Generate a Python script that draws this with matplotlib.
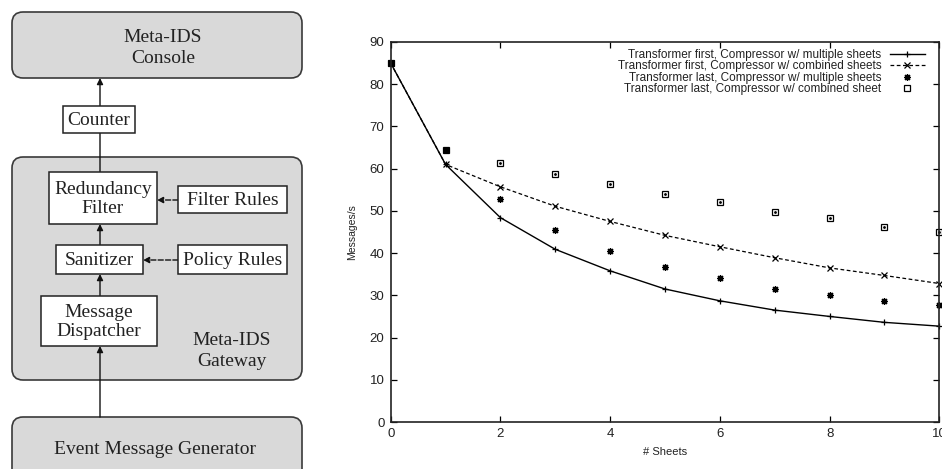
import matplotlib
matplotlib.use('Agg')
import matplotlib.pyplot as plt
from matplotlib.patches import FancyBboxPatch, Rectangle

# chart data
sheets = [0, 1, 2, 3, 4, 5, 6, 7, 8, 9, 10]
first_multi = [85, 61.0, 48.4, 40.9, 35.8, 31.5, 28.7, 26.5, 25.0, 23.6, 22.7]
first_combined = [85, 61.0, 55.7, 51.1, 47.5, 44.2, 41.5, 38.9, 36.5, 34.7, 32.8]
last_multi = [85, 64.4, 52.9, 45.4, 40.5, 36.8, 34.0, 31.6, 30.1, 28.7, 27.7]
last_combined = [85, 64.4, 61.3, 58.8, 56.3, 54.1, 52.2, 49.8, 48.2, 46.3, 45.0]
series_labels = ['Transformer first, Compressor w/ multiple sheets',
                 'Transformer first, Compressor w/ combined sheets',
                 'Transformer last, Compressor w/ multiple sheets',
                 'Transformer last, Compressor w/ combined sheet']

fig = plt.figure(figsize=(9.42, 4.69), dpi=100)

# ---- block diagram on the left (pixel coordinates) ----
dg = fig.add_axes([0, 0, 1, 1])
dg.set_xlim(0, 942)
dg.set_ylim(469, 0)
dg.axis('off')

grey = '#d9d9d9'
edge = '#3a3a3a'
serif = 'Liberation Serif'


def rounded(x0, y0, x1, y1):
    p = FancyBboxPatch((x0, y0), x1 - x0, y1 - y0,
                       boxstyle='round,pad=0,rounding_size=11',
                       fc=grey, ec=edge, lw=1.2, zorder=1)
    dg.add_patch(p)


def box(x0, y0, x1, y1, text):
    dg.add_patch(Rectangle((x0, y0), x1 - x0, y1 - y0, fc='white',
                           ec='#222222', lw=1.1, zorder=3))
    dg.text((x0 + x1) / 2, (y0 + y1) / 2 + 1, text, ha='center', va='center',
            family=serif, fontsize=14, color='#222222', linespacing=1.2,
            zorder=4)


def arrow(x0, y0, x1, y1, ls='-', head=True):
    dg.annotate('', xy=(x1, y1), xytext=(x0, y0),
                arrowprops=dict(arrowstyle='-|>' if head else '-',
                                mutation_scale=9, lw=1.0, color='#111111',
                                ls=ls, shrinkA=0, shrinkB=0), zorder=2)


rounded(12, 12, 302, 78)
dg.text(163, 48, 'Meta-IDS\nConsole', ha='center', va='center', family=serif,
        fontsize=14, color='#222222', linespacing=1.35)
rounded(12, 157, 302, 380)
dg.text(232, 351, 'Meta-IDS\nGateway', ha='center', va='center', family=serif,
        fontsize=14, color='#222222', linespacing=1.3)
rounded(12, 417, 302, 490)
dg.text(155, 449, 'Event Message Generator', ha='center', va='center',
        family=serif, fontsize=14, color='#222222')

box(63, 106, 135, 133, 'Counter')
box(49, 172, 157, 224, 'Redundancy\nFilter')
box(178, 186, 287, 213, 'Filter Rules')
box(56, 245, 143, 274, 'Sanitizer')
box(178, 245, 287, 274, 'Policy Rules')
box(41, 296, 157, 346, 'Message\nDispatcher')

arrow(100, 417, 100, 346)
arrow(100, 296, 100, 274)
arrow(100, 245, 100, 224)
arrow(100, 172, 100, 133, head=False)
arrow(100, 106, 100, 78)
arrow(178, 200, 157, 200, ls='--')
arrow(178, 260, 143, 260, ls='--')

# ---- gnuplot style chart on the right ----
plt.rcParams['font.family'] = 'Liberation Sans'
ax = fig.add_axes([390.7 / 942, 47 / 469, 548.6 / 942, 380 / 469])

ax.plot(sheets, first_multi, '-', color='black', lw=1.0, marker='+',
        ms=5, mew=0.9, label=series_labels[0], clip_on=False)
ax.plot(sheets, first_combined, '--', color='black', lw=0.9, marker='x',
        ms=4, mew=0.9, dashes=(3, 2), label=series_labels[1], clip_on=False)
ax.plot(sheets, last_multi, ls='none', color='black', marker=(8, 2, 0),
        ms=5, mew=0.9, label=series_labels[2], clip_on=False)
ax.plot(sheets, last_combined, ls='none', color='black', marker='s',
        ms=4.5, mew=0.9, mfc='none', label=series_labels[3], clip_on=False)
ax.plot(sheets, last_combined, ls='none', color='black', marker='o',
        ms=1, clip_on=False)

ax.set_xlim(0, 10)
ax.set_ylim(0, 90)
ax.set_xticks(range(0, 11, 2))
ax.set_yticks(range(0, 91, 10))
ax.tick_params(direction='in', length=4.5, width=0.9, top=True, right=True,
               labelsize=9.5, labelcolor='#222222', pad=4.5)
for s in ax.spines.values():
    s.set_linewidth(1.2)
    s.set_color('#222222')
ax.set_xlabel('# Sheets', fontsize=8, color='#222222', labelpad=5)
ax.set_ylabel('Messages/s', fontsize=7.5, color='#222222', labelpad=9)

ax.legend(loc='upper right', bbox_to_anchor=(0.974, 0.982), frameon=False,
          markerfirst=False, fontsize=8.5, handlelength=3.0,
          handletextpad=0.7, labelspacing=-0.05, borderaxespad=0,
          borderpad=0, labelcolor='#222222')

fig.savefig('out.png', dpi=100)
